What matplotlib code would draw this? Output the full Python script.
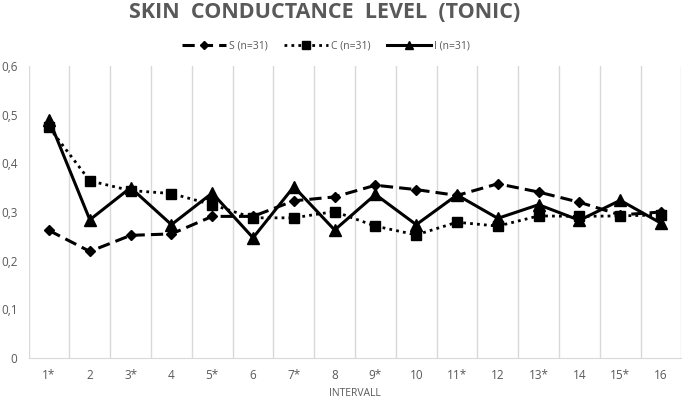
import matplotlib
matplotlib.use("Agg")
import matplotlib.pyplot as plt

intervals = ["1*", "2", "3*", "4", "5*", "6", "7*", "8", "9*", "10",
             "11*", "12", "13*", "14", "15*", "16"]
s_vals = [0.262, 0.219, 0.252, 0.255, 0.291, 0.291, 0.323, 0.331, 0.355, 0.346,
          0.334, 0.358, 0.341, 0.320, 0.294, 0.300]
c_vals = [0.474, 0.364, 0.344, 0.338, 0.315, 0.288, 0.288, 0.301, 0.271, 0.253,
          0.279, 0.271, 0.292, 0.291, 0.292, 0.294]
i_vals = [0.490, 0.284, 0.350, 0.274, 0.339, 0.247, 0.352, 0.263, 0.336, 0.274,
          0.335, 0.287, 0.315, 0.283, 0.324, 0.277]
yticks = [0, 0.1, 0.2, 0.3, 0.4, 0.5, 0.6]

gray = "#595959"
plt.rcParams['font.family'] = ['Open Sans', 'DejaVu Sans']

fig = plt.figure(figsize=(6.85, 4), dpi=100)
ax = fig.add_axes([0.0418, 0.105, 0.953, 0.73])

x = list(range(len(intervals)))
ax.plot(x, s_vals, color="black", lw=2.2, ls=(0, (4, 2)), marker="D", ms=5,
        label="S (n=31)", zorder=3)
ax.plot(x, c_vals, color="black", lw=2.0, ls=(0, (1, 1.5)), marker="s", ms=7,
        label="C (n=31)", zorder=3)
ax.plot(x, i_vals, color="black", lw=2.2, ls="-", marker="^", ms=8,
        label="I (n=31)", zorder=3)

ax.set_xlim(-0.5, len(intervals) - 0.5)
ax.set_ylim(0, 0.6)
for k in range(len(intervals) + 1):
    ax.axvline(k - 0.5, color="#d9d9d9", lw=1, zorder=1)

ax.set_xticks(x)
ax.set_xticklabels(intervals)
ax.set_yticks(yticks)
ax.set_yticklabels([("%.1f" % v).replace(".", ",") if v else "0" for v in yticks])
ax.tick_params(length=0, colors=gray, labelsize=8.5)
ax.tick_params(axis="x", pad=8)
ax.tick_params(axis="y", pad=8)
for side in ["top", "right", "left"]:
    ax.spines[side].set_visible(False)
ax.spines["bottom"].set_color("#d9d9d9")

ax.set_xlabel("INTERVALL", color=gray, fontsize=7.5, labelpad=4)

fig.text(0.474, 0.968, "SKIN  CONDUCTANCE  LEVEL  (TONIC)", ha="center", va="center",
         fontsize=15.5, fontweight="bold", color=gray)
leg = fig.legend(loc="center", bbox_to_anchor=(0.476, 0.885), ncol=3, frameon=False,
                 fontsize=7.5, handlelength=4.2, columnspacing=1.6, markerscale=0.8,
                 handletextpad=0.3)
for t in leg.get_texts():
    t.set_color(gray)

fig.savefig("out.png", dpi=100)
